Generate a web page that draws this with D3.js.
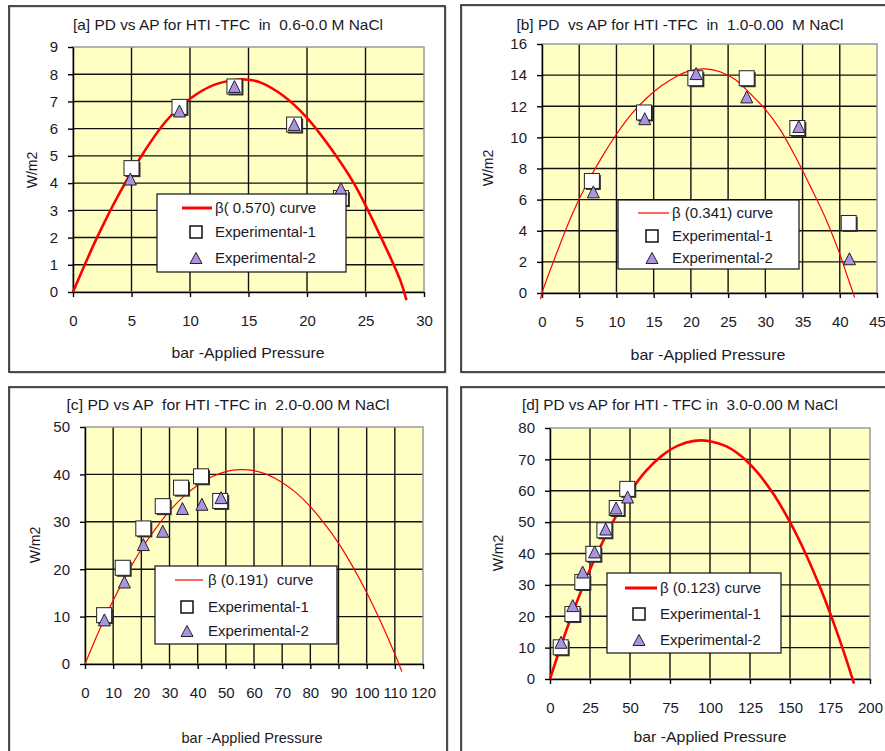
<!DOCTYPE html>
<html>
<head>
<meta charset="utf-8">
<script src="https://cdn.jsdelivr.net/npm/d3@7"></script>
<style>
  body { margin: 0; background: #fff; }
  svg { display: block; font-family: "Liberation Sans", Arial, sans-serif; }
</style>
</head>
<body>
<div id="chart"></div>
<script>
// ---- panel [a] ----
const aTitle = '[a] PD vs AP for HTI -TFC  in  0.6-0.0 M NaCl';
const aCurveLabel = 'β( 0.570) curve';
const aXTicks = [0, 5, 10, 15, 20, 25, 30];
const aYTicks = [0, 1, 2, 3, 4, 5, 6, 7, 8, 9];
const aCurveX = [0, 2, 4, 6, 8, 10, 12, 14, 15, 16, 18, 20, 22, 24, 26, 28, 28.5];
const aCurveY = [0, 1.95, 3.65, 5.1, 6.3, 7.1, 7.6, 7.8, 7.8, 7.7, 7.2, 6.4, 5.3, 4.0, 2.3, 0.4, -0.3];
const aExp1X = [5, 9.1, 13.8, 18.9, 22.9];
const aExp1Y = [4.55, 6.8, 7.55, 6.15, 3.45];
const aExp2X = [4.9, 9.1, 13.8, 18.9, 22.9];
const aExp2Y = [4.15, 6.65, 7.55, 6.15, 3.8];

// ---- panel [b] ----
const bTitle = '[b] PD  vs AP for HTI -TFC  in  1.0-0.00  M NaCl';
const bCurveLabel = 'β (0.341) curve';
const bXTicks = [0, 5, 10, 15, 20, 25, 30, 35, 40, 45];
const bYTicks = [0, 2, 4, 6, 8, 10, 12, 14, 16];
const bCurveX = [-0.2, 0, 2, 4, 6, 8, 10, 12, 14, 16, 18, 20, 22, 24, 26, 28, 30, 32, 34, 36, 38, 40, 41, 42];
const bCurveY = [-0.4, 0, 2.6, 5.0, 7.0, 8.7, 10.2, 11.5, 12.5, 13.3, 13.9, 14.3, 14.4, 14.2, 13.7, 12.8, 11.8, 10.5, 8.8, 6.9, 4.9, 2.5, 1.1, -0.3];
const bExp1X = [6.7, 13.7, 20.6, 27.5, 34.3, 41.2];
const bExp1Y = [7.2, 11.6, 13.8, 13.8, 10.6, 4.5];
const bExp2X = [6.9, 13.8, 20.7, 27.5, 34.5, 41.3];
const bExp2Y = [6.5, 11.2, 14.1, 12.6, 10.7, 2.2];

// ---- panel [c] ----
const cTitle = '[c] PD vs AP  for HTI -TFC in  2.0-0.00 M NaCl';
const cCurveLabel = 'β (0.191)  curve';
const cXTicks = [0, 10, 20, 30, 40, 50, 60, 70, 80, 90, 100, 110, 120];
const cYTicks = [0, 10, 20, 30, 40, 50];
const cCurveX = [0, 5, 10, 15, 20, 25, 30, 35, 40, 45, 50, 55, 60, 65, 70, 75, 80, 85, 90, 95, 100, 105, 110, 112.5];
const cCurveY = [0, 7, 13.4, 19.1, 24.2, 28.5, 32.3, 35.3, 37.7, 39.5, 40.6, 41, 40.8, 39.9, 38.3, 36.1, 33.2, 29.6, 25.5, 20.6, 15.1, 8.9, 2.1, -1.6];
const cExp1X = [6.8, 13.4, 20.7, 27.6, 34.1, 41.2, 48];
const cExp1Y = [10.3, 20.3, 28.6, 33.3, 37.2, 39.6, 34.4];
const cExp2X = [6.9, 14, 20.7, 27.6, 34.6, 41.5, 48.3];
const cExp2Y = [9.3, 17.3, 25.2, 28, 32.8, 33.7, 35.1];

// ---- panel [d] ----
const dTitle = '[d] PD vs AP for HTI - TFC in  3.0-0.00 M NaCl';
const dCurveLabel = 'β (0.123) curve';
const dXTicks = [0, 25, 50, 75, 100, 125, 150, 175, 200];
const dYTicks = [0, 10, 20, 30, 40, 50, 60, 70, 80];
const dCurveX = [0, 10, 20, 30, 40, 50, 60, 70, 80, 90, 100, 110, 120, 130, 140, 150, 160, 170, 180, 185, 190];
const dCurveY = [0, 15.2, 28.8, 40.6, 50.7, 59.5, 66.3, 71.2, 74.4, 75.9, 75.8, 74.2, 70.8, 65.6, 58.7, 50, 39.7, 27.7, 14, 6.5, -1.5];
const dExp1X = [6.7, 14, 20.2, 27.1, 34, 41.7, 48.3];
const dExp1Y = [10.1, 20.7, 30.9, 39.9, 47.4, 54.5, 60.6];
const dExp2X = [6.9, 14.2, 20.4, 27.9, 34.8, 41.3, 48.5];
const dExp2Y = [11.7, 23.4, 34.1, 40.5, 47.8, 54.5, 58];

const xLabel = 'bar -Applied Pressure';
const yLabel = 'W/m2';
const legend1 = 'Experimental-1';
const legend2 = 'Experimental-2';

const textColor = '#1a1a26';
const plotBg = '#ffffc4';
const triFill = '#ad92e2';

const panels = [
  {
    title: aTitle, curveLabel: aCurveLabel, xt: aXTicks, yt: aYTicks,
    cx: aCurveX, cy: aCurveY, e1x: aExp1X, e1y: aExp1Y, e2x: aExp2X, e2y: aExp2Y,
    box: [9, 6, 436, 366], plot: { l: 73, r: 424, t: 47, b: 292 },
    titleX: 228, titleY: 30, titleW: 310, xTitleX: 248, xTitleY: 358, xTitleW: 153,
    yTitleX: 32, yTitleY: 170, curveW: 2.6,
    legend: { x: 157, y: 194, w: 189, h: 78, rows: [208, 232, 258], l0: 182, l1: 212, tx: 215, mx: 196 },
  },
  {
    title: bTitle, curveLabel: bCurveLabel, xt: bXTicks, yt: bYTicks,
    cx: bCurveX, cy: bCurveY, e1x: bExp1X, e1y: bExp1Y, e2x: bExp2X, e2y: bExp2Y,
    box: [461, 5, 440, 367], plot: { l: 542, r: 877, t: 44, b: 293 },
    titleX: 680, titleY: 30, titleW: 327, xTitleX: 708, xTitleY: 360, xTitleW: 155,
    yTitleX: 488, yTitleY: 168, curveW: 1.2,
    legend: { x: 618, y: 200, w: 181, h: 69, rows: [213, 236, 258], l0: 638, l1: 669, tx: 672, mx: 652 },
  },
  {
    title: cTitle, curveLabel: cCurveLabel, xt: cXTicks, yt: cYTicks,
    cx: cCurveX, cy: cCurveY, e1x: cExp1X, e1y: cExp1Y, e2x: cExp2X, e2y: cExp2Y,
    box: [9, 387, 438, 380], plot: { l: 85, r: 423, t: 427, b: 664 },
    titleX: 228, titleY: 410, titleW: 323, xTitleX: 252, xTitleY: 743, xTitleW: 141,
    yTitleX: 35, yTitleY: 545, curveW: 1.2,
    legend: { x: 155, y: 566, w: 182, h: 78, rows: [580, 607, 631], l0: 175, l1: 203, tx: 208, mx: 187 },
  },
  {
    title: dTitle, curveLabel: dCurveLabel, xt: dXTicks, yt: dYTicks,
    cx: dCurveX, cy: dCurveY, e1x: dExp1X, e1y: dExp1Y, e2x: dExp2X, e2y: dExp2Y,
    box: [461, 387, 440, 380], plot: { l: 550, r: 870, t: 428, b: 679 },
    titleX: 680, titleY: 410, titleW: 316, xTitleX: 710, xTitleY: 742, xTitleW: 153,
    yTitleX: 498, yTitleY: 553, curveW: 2.6,
    legend: { x: 607, y: 573, w: 174, h: 80, rows: [588, 614, 640], l0: 625, l1: 657, tx: 660, mx: 639 },
  },
];

const svg = d3.select('#chart').append('svg')
  .attr('width', 885)
  .attr('height', 751);

svg.append('rect').attr('width', 885).attr('height', 751).attr('fill', '#fff');

function triPath(w, h) {
  return `M0,${-h / 2}L${w / 2},${h / 2}L${-w / 2},${h / 2}Z`;
}

function drawPanel(p) {
  const g = svg.append('g');
  const xs = d3.scaleLinear().domain([p.xt[0], p.xt[p.xt.length - 1]]).range([p.plot.l, p.plot.r]);
  const ys = d3.scaleLinear().domain([p.yt[0], p.yt[p.yt.length - 1]]).range([p.plot.b, p.plot.t]);

  // outer frame
  g.append('rect')
    .attr('x', p.box[0] + 1).attr('y', p.box[1] + 1)
    .attr('width', p.box[2]).attr('height', p.box[3])
    .attr('fill', 'none').attr('stroke', '#bbb').attr('stroke-width', 1);
  g.append('rect')
    .attr('x', p.box[0]).attr('y', p.box[1])
    .attr('width', p.box[2]).attr('height', p.box[3])
    .attr('fill', 'none').attr('stroke', '#3a3a3a').attr('stroke-width', 1.8);

  // plot area
  g.append('rect')
    .attr('x', p.plot.l).attr('y', p.plot.t)
    .attr('width', p.plot.r - p.plot.l).attr('height', p.plot.b - p.plot.t)
    .attr('fill', plotBg);

  g.selectAll('.vgrid').data(p.xt.slice(1, -1)).join('line')
    .attr('x1', (d) => xs(d)).attr('x2', (d) => xs(d))
    .attr('y1', p.plot.t).attr('y2', p.plot.b)
    .attr('stroke', '#111').attr('stroke-width', 1.4);
  g.selectAll('.hgrid').data(p.yt.slice(1, -1)).join('line')
    .attr('x1', p.plot.l).attr('x2', p.plot.r)
    .attr('y1', (d) => ys(d)).attr('y2', (d) => ys(d))
    .attr('stroke', '#111').attr('stroke-width', 1.4);

  g.append('rect')
    .attr('x', p.plot.l).attr('y', p.plot.t)
    .attr('width', p.plot.r - p.plot.l).attr('height', p.plot.b - p.plot.t)
    .attr('fill', 'none').attr('stroke', '#9a9a9a').attr('stroke-width', 1.5);

  // axes
  const xAxisG = g.append('g')
    .attr('transform', `translate(0,${p.plot.b})`)
    .call(d3.axisBottom(xs).tickValues(p.xt).tickSize(5).tickSizeOuter(0).tickPadding(18));
  const yAxisG = g.append('g')
    .attr('transform', `translate(${p.plot.l},0)`)
    .call(d3.axisLeft(ys).tickValues(p.yt).tickSize(5).tickSizeOuter(0).tickPadding(10));
  [xAxisG, yAxisG].forEach((ax) => {
    ax.select('.domain').attr('stroke', '#000').attr('stroke-width', 1.5);
    ax.selectAll('.tick line').attr('stroke', '#000').attr('stroke-width', 1.4);
    ax.selectAll('.tick text')
      .attr('fill', textColor)
      .attr('font-size', 15)
      .attr('font-family', '"Liberation Sans", Arial, sans-serif');
  });

  // curve
  const line = d3.line()
    .x((d) => xs(d[0]))
    .y((d) => ys(d[1]))
    .curve(d3.curveCatmullRom);
  g.append('path')
    .datum(p.cx.map((v, i) => [v, p.cy[i]]))
    .attr('d', line)
    .attr('fill', 'none')
    .attr('stroke', '#ff0000')
    .attr('stroke-width', p.curveW);

  // experimental-1 squares
  const s = 15;
  g.selectAll('.sq-shadow').data(p.e1x.map((v, i) => [v, p.e1y[i]])).join('rect')
    .attr('x', (d) => xs(d[0]) - s / 2 + 1.5).attr('y', (d) => ys(d[1]) - s / 2 + 1.5)
    .attr('width', s).attr('height', s)
    .attr('fill', '#333');
  g.selectAll('.sq').data(p.e1x.map((v, i) => [v, p.e1y[i]])).join('rect')
    .attr('x', (d) => xs(d[0]) - s / 2).attr('y', (d) => ys(d[1]) - s / 2)
    .attr('width', s).attr('height', s)
    .attr('fill', '#fff').attr('stroke', '#222').attr('stroke-width', 1);

  // experimental-2 triangles
  g.selectAll('.tri').data(p.e2x.map((v, i) => [v, p.e2y[i]])).join('path')
    .attr('transform', (d) => `translate(${xs(d[0])},${ys(d[1])})`)
    .attr('d', triPath(12, 12))
    .attr('fill', triFill).attr('stroke', '#222').attr('stroke-width', 1);

  // legend
  const L = p.legend;
  g.append('rect')
    .attr('x', L.x).attr('y', L.y).attr('width', L.w).attr('height', L.h)
    .attr('fill', '#fff').attr('stroke', '#111').attr('stroke-width', 1.2);
  g.append('line')
    .attr('x1', L.l0).attr('x2', L.l1).attr('y1', L.rows[0]).attr('y2', L.rows[0])
    .attr('stroke', '#ff0000').attr('stroke-width', p.curveW > 2 ? 3 : 1.2);
  g.append('rect')
    .attr('x', L.mx - 6).attr('y', L.rows[1] - 6).attr('width', 12).attr('height', 12)
    .attr('fill', '#fff').attr('stroke', '#111').attr('stroke-width', 1.5);
  g.append('path')
    .attr('transform', `translate(${L.mx},${L.rows[2]})`)
    .attr('d', triPath(12, 11))
    .attr('fill', triFill).attr('stroke', '#222').attr('stroke-width', 1);
  [p.curveLabel, legend1, legend2].forEach((t, i) => {
    g.append('text')
      .attr('x', L.tx).attr('y', L.rows[i])
      .attr('dy', '0.36em')
      .attr('font-size', 15)
      .attr('fill', textColor)
      .style('white-space', 'pre')
      .text(t);
  });

  // titles
  g.append('text')
    .attr('x', p.titleX).attr('y', p.titleY)
    .attr('text-anchor', 'middle')
    .attr('font-size', 14.5)
    .attr('fill', textColor)
    .attr('textLength', p.titleW)
    .attr('lengthAdjust', 'spacingAndGlyphs')
    .style('white-space', 'pre')
    .text(p.title);
  g.append('text')
    .attr('x', p.xTitleX).attr('y', p.xTitleY)
    .attr('text-anchor', 'middle')
    .attr('font-size', 15)
    .attr('fill', textColor)
    .attr('textLength', p.xTitleW)
    .attr('lengthAdjust', 'spacingAndGlyphs')
    .text(xLabel);
  g.append('text')
    .attr('transform', `translate(${p.yTitleX},${p.yTitleY}) rotate(-90)`)
    .attr('text-anchor', 'middle')
    .attr('dy', '0.35em')
    .attr('font-size', 14)
    .attr('fill', textColor)
    .text(yLabel);
}

panels.forEach(drawPanel);
</script>
</body>
</html>
